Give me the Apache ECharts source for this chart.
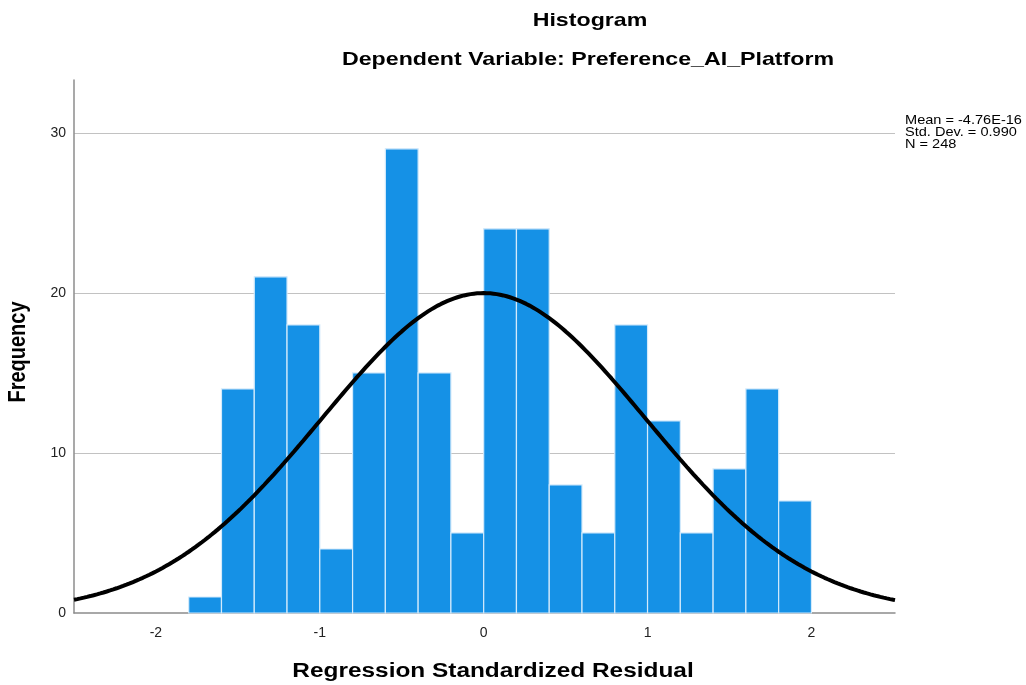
<!DOCTYPE html>
<html>
<head>
<meta charset="utf-8">
<title>Histogram</title>
<script src="https://cdn.jsdelivr.net/npm/echarts@6/dist/echarts.min.js"></script>
<style>
  html, body { margin: 0; padding: 0; background: #fff; }
  #chart { width: 1026px; height: 685px; }
</style>
</head>
<body>
<div id="chart"></div>
<script>
// Residual bins (lower edges) and their frequencies
const binStarts = [-1.8, -1.6, -1.4, -1.2, -1.0, -0.8, -0.6, -0.4, -0.2, 0.0,
                   0.2, 0.4, 0.6, 0.8, 1.0, 1.2, 1.4, 1.6, 1.8];
const binWidth = 0.2;
const frequencies = [1, 14, 21, 18, 4, 15, 29, 15, 5, 24,
                     24, 8, 5, 18, 12, 5, 9, 14, 7];

// Summary statistics of the residuals
const statMean = -4.76e-16;
const statStdDev = 0.990;
const statN = 248;
const statLabels = ['Mean = -4.76E-16', 'Std. Dev. = 0.990', 'N = 248'];

// Axis labels
const xTickLabels = [-2, -1, 0, 1, 2];
const yTickLabels = [0, 10, 20, 30];

const xMin = -2.5, xMax = 2.51;
const FONT = "'Liberation Sans', Arial, sans-serif";
const STRETCH = 1.22;

// Histogram rectangles: [start, end, count]
const barData = binStarts.map((s, i) => [s, s + binWidth, frequencies[i]]);

// Normal density scaled to counts per bin
const curveData = [];
for (let k = 0; k <= 501; k++) {
  const x = xMin + k * 0.01;
  const z = (x - statMean) / statStdDev;
  const y = statN * binWidth * Math.exp(-0.5 * z * z) / (statStdDev * Math.sqrt(2 * Math.PI));
  curveData.push([x, y]);
}

const chart = echarts.init(document.getElementById('chart'), null, { renderer: 'canvas' });

function hText(text, x, y, size, bold, align, stretch) {
  return {
    type: 'text', x: x, y: y, scaleX: stretch || STRETCH, silent: true,
    style: {
      text: text, fill: '#000', font: (bold ? 'bold ' : '') + size + 'px ' + FONT,
      textAlign: align || 'center', textVerticalAlign: 'middle'
    }
  };
}

const graphics = [
  hText('Histogram', 590, 21, 19, true),
  hText('Dependent Variable: Preference_AI_Platform', 588, 60, 19, true),
  hText('Regression Standardized Residual', 493, 671, 20, true),
  {
    type: 'text', x: 18, y: 352, rotation: Math.PI / 2, scaleY: STRETCH, silent: true,
    style: {
      text: 'Frequency', fill: '#000', font: 'bold 20px ' + FONT,
      textAlign: 'center', textVerticalAlign: 'middle'
    }
  }
];
statLabels.forEach((t, i) => graphics.push(hText(t, 905, 120 + i * 12, 13, false, 'left', 1.12)));

chart.setOption({
  animation: false,
  backgroundColor: '#fff',
  grid: { left: 74, right: 131, top: 80, bottom: 72, containLabel: false },
  xAxis: {
    type: 'value', min: xMin, max: xMax,
    axisLine: { show: true, onZero: false, lineStyle: { color: '#8c8c8c', width: 1.5 } },
    axisTick: { show: false },
    splitLine: { show: false },
    axisLabel: {
      customValues: xTickLabels, margin: 13, color: '#222', fontSize: 14, fontFamily: FONT,
      formatter: v => String(v)
    }
  },
  yAxis: {
    type: 'value', min: 0, max: 33.3, interval: 10,
    axisLine: { show: true, onZero: false, lineStyle: { color: '#8c8c8c', width: 1.5 } },
    axisTick: { show: false },
    splitLine: { show: true, showMinLine: false, showMaxLine: false, lineStyle: { color: '#c2c2c2', width: 1.2 } },
    axisLabel: {
      customValues: yTickLabels, margin: 8, color: '#222', fontSize: 14, fontFamily: FONT,
      formatter: v => String(v)
    }
  },
  series: [
    {
      type: 'custom',
      data: barData,
      encode: { x: [0, 1], y: 2 },
      renderItem: function (params, api) {
        const p0 = api.coord([api.value(0), api.value(2)]);
        const p1 = api.coord([api.value(1), 0]);
        return {
          type: 'rect',
          shape: { x: p0[0], y: p0[1], width: p1[0] - p0[0], height: p1[1] - p0[1] },
          style: { fill: '#1591e6', stroke: '#d3eafb', lineWidth: 1.2 }
        };
      },
      z: 2
    },
    {
      type: 'line',
      data: curveData,
      showSymbol: false,
      smooth: false,
      lineStyle: { color: '#000', width: 4 },
      z: 3
    }
  ],
  graphic: graphics
});
</script>
</body>
</html>
